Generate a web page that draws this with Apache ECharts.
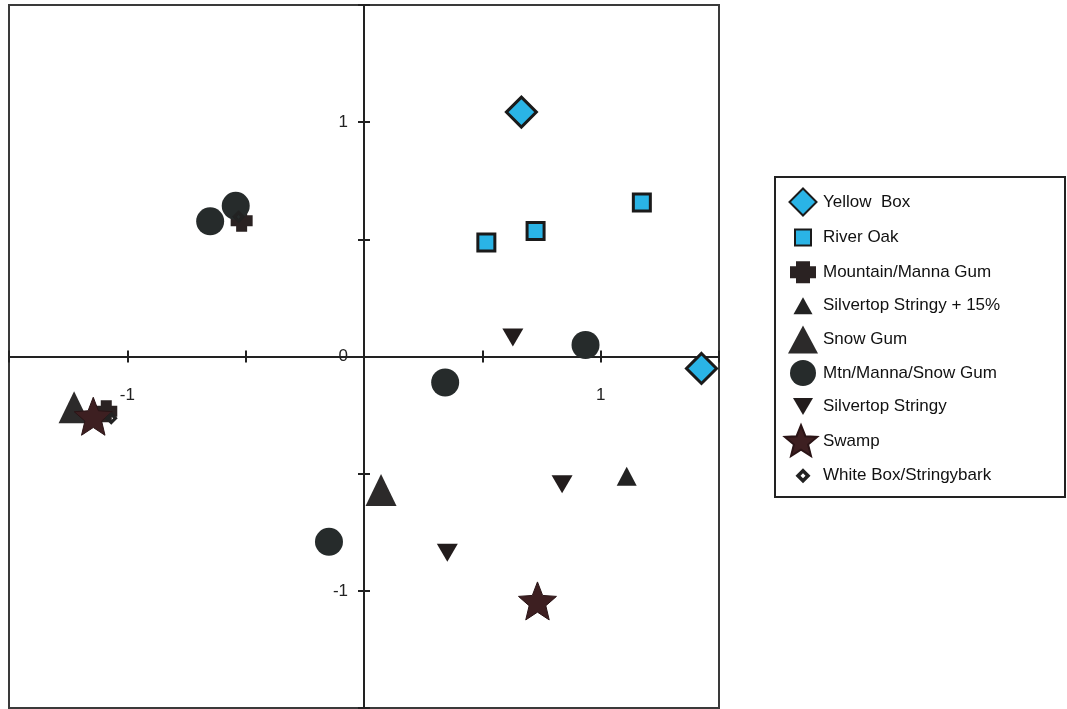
<!DOCTYPE html>
<html>
<head>
<meta charset="utf-8">
<script src="https://cdn.jsdelivr.net/npm/echarts@6/dist/echarts.min.js"></script>
<style>
  html, body { margin: 0; padding: 0; background: #fff; }
  #chart { width: 1067px; height: 709px; }
</style>
</head>
<body>
<div id="chart"></div>
<script>
// 各组样点坐标 (轴1, 轴2)
const yellowBox = [[0.665, 1.043], [1.426, -0.051]]
const riverOak = [[0.517, 0.487], [0.725, 0.536], [1.174, 0.657]]
const mountainManna = [[-0.517, 0.579], [-1.089, -0.234]]
const silvertop15 = [[1.110, -0.511]]
const snowGum = [[0.072, -0.570], [-1.225, -0.217]]
const mtnMannaSnow = [[-0.650, 0.577], [-0.542, 0.643], [0.343, -0.111], [0.936, 0.049], [-0.148, -0.791]]
const silvertop = [[0.629, 0.081], [0.837, -0.545], [0.352, -0.838]]
const swamp = [[0.733, -1.043], [-1.144, -0.255]]
const whiteBox = [[-0.530, 0.596], [-1.068, -0.264]]

// 刻度标签
const xLabels = [-1, 1]
const yLabels = [-1, 0, 1]

const FONT = 'Liberation Sans'
const CYAN = '#2ab4e6'

// 绘图区
const GRID_W = 710
const GRID_H = 703

// 自定义图形
const plusPath = 'path://M2.5,0 H7.5 V2.5 H10 V7.5 H7.5 V10 H2.5 V7.5 H0 V2.5 H2.5 Z'
const starPath = 'path://M50,2 L62.9,34.2 L97.6,36.5 L70.9,58.8 L79.4,92.5 L50,74 L20.6,92.5 L29.1,58.8 L2.4,36.5 L37.1,34.2 Z'
const wbPath = 'path://M5,0 L10,5 L5,10 L0,5 Z M5,3.5 L3.5,5 L5,6.5 L6.5,5 Z'

// 图例图标（38x38 框内，两个 M 点撑开边界，使图标大小各异）
const PAD = 'path://M0,0 M38,38 '
const legendIcons = {
  'Yellow  Box': PAD + 'M23,5.5 L36.5,19 L23,32.5 L9.5,19 Z',
  'River Oak': PAD + 'M15,11 H31 V27 H15 Z',
  'Mountain/Manna Gum': PAD + 'M16,8 H30 V13 H36 V25 H30 V30 H16 V25 H10 V13 H16 Z',
  'Silvertop Stringy + 15%': PAD + 'M23,10.5 L32.5,27.5 L13.5,27.5 Z',
  'Snow Gum': PAD + 'M23,5 L38,33 L8,33 Z',
  'Mtn/Manna/Snow Gum': PAD + 'M10,19 A13,13 0 1,1 36,19 A13,13 0 1,1 10,19 Z',
  'Silvertop Stringy': PAD + 'M13,10.5 H33 L23,27.5 Z',
  'Swamp': PAD + 'M21,3 L25.4,14 L37.2,14.7 L28.1,22.3 L31,33.8 L21,27.5 L11,33.8 L13.9,22.3 L4.8,14.7 L16.6,14 Z',
  'White Box/Stringybark': PAD + 'M23,11.5 L30.5,19 L23,26.5 L15.5,19 Z M23,16.5 L20.5,19 L23,21.5 L25.5,19 Z'
}

const chart = echarts.init(document.getElementById('chart'))

const axisCommon = {
  type: 'value',
  min: -1.5,
  max: 1.5,
  interval: 0.5,
  splitLine: { show: false }
}

const lineStyle = { color: '#222', width: 2 }

// 坐标轴放在 0 处（用 offset，不用 onZero）
const makeX = (inside, showLabel) => ({
  ...axisCommon,
  position: 'bottom',
  offset: -GRID_H / 2,
  axisLine: { onZero: false, lineStyle },
  axisTick: { show: true, inside, length: 6, lineStyle },
  axisLabel: {
    show: showLabel,
    margin: 30,
    color: '#222',
    fontSize: 17,
    fontFamily: FONT,
    formatter: (v) => (xLabels.includes(v) ? String(v) : '')
  }
})

const makeY = (inside, showLabel) => ({
  ...axisCommon,
  position: 'left',
  offset: -GRID_W / 2,
  axisLine: { onZero: false, lineStyle },
  axisTick: { show: true, inside, length: 6, lineStyle },
  axisLabel: {
    show: showLabel,
    margin: 16,
    color: '#222',
    fontSize: 17,
    fontFamily: FONT,
    formatter: (v) => (yLabels.includes(v) ? String(v) : '')
  }
})

const option = {
  animation: false,
  backgroundColor: '#fff',
  grid: {
    left: 9,
    top: 5,
    width: GRID_W,
    height: GRID_H,
    outerBoundsMode: 'none',
    containLabel: false,
    show: true,
    borderColor: '#3a3a3a',
    borderWidth: 2
  },
  xAxis: [makeX(false, true), makeX(true, false)],
  yAxis: [makeY(false, true), makeY(true, false)],
  legend: {
    orient: 'vertical',
    left: 779,
    top: 182,
    padding: 0,
    itemWidth: 38,
    itemHeight: 38,
    itemGap: -4.4,
    symbolRotate: 0,
    textStyle: { color: '#111', fontSize: 17, fontFamily: FONT, lineHeight: 22 },
    data: Object.keys(legendIcons).map((name) => ({ name, icon: legendIcons[name] }))
  },
  graphic: [
    {
      type: 'rect',
      shape: { x: 775, y: 177, width: 290, height: 320 },
      style: { fill: 'none', stroke: '#222', lineWidth: 2 }
    }
  ],
  series: [
    {
      name: 'Yellow  Box',
      type: 'scatter',
      symbol: 'diamond',
      symbolSize: 30,
      itemStyle: { color: CYAN, borderColor: '#1a1a1a', borderWidth: 3, opacity: 1 },
      data: yellowBox
    },
    {
      name: 'River Oak',
      type: 'scatter',
      symbol: 'rect',
      symbolSize: 17,
      itemStyle: { color: CYAN, borderColor: '#1a1a1a', borderWidth: 3, opacity: 1 },
      data: riverOak
    },
    {
      name: 'Mountain/Manna Gum',
      type: 'scatter',
      symbol: plusPath,
      symbolSize: 22,
      itemStyle: { color: '#2a2222', opacity: 1 },
      data: mountainManna
    },
    {
      name: 'Silvertop Stringy + 15%',
      type: 'scatter',
      symbol: 'triangle',
      symbolSize: [20, 19],
      itemStyle: { color: '#222', opacity: 1 },
      data: silvertop15
    },
    {
      name: 'Snow Gum',
      type: 'scatter',
      symbol: 'triangle',
      symbolSize: [31, 32],
      itemStyle: { color: '#2c2a2a', opacity: 1 },
      data: snowGum
    },
    {
      name: 'Mtn/Manna/Snow Gum',
      type: 'scatter',
      symbol: 'circle',
      symbolSize: 28,
      itemStyle: { color: '#262b2b', opacity: 1 },
      data: mtnMannaSnow
    },
    {
      name: 'Silvertop Stringy',
      type: 'scatter',
      symbol: 'triangle',
      symbolRotate: 180,
      symbolSize: [21, 18],
      itemStyle: { color: '#221c1c', opacity: 1 },
      data: silvertop
    },
    {
      name: 'Swamp',
      type: 'scatter',
      symbol: starPath,
      symbolSize: 38,
      itemStyle: { color: '#3d1f21', borderColor: '#2a1416', borderWidth: 1, opacity: 1 },
      data: swamp
    },
    {
      name: 'White Box/Stringybark',
      type: 'scatter',
      symbol: wbPath,
      symbolSize: 13,
      itemStyle: { color: '#222', opacity: 1 },
      data: whiteBox
    }
  ]
}

chart.setOption(option)
window.addEventListener('resize', () => chart.resize())
</script>
</body>
</html>
